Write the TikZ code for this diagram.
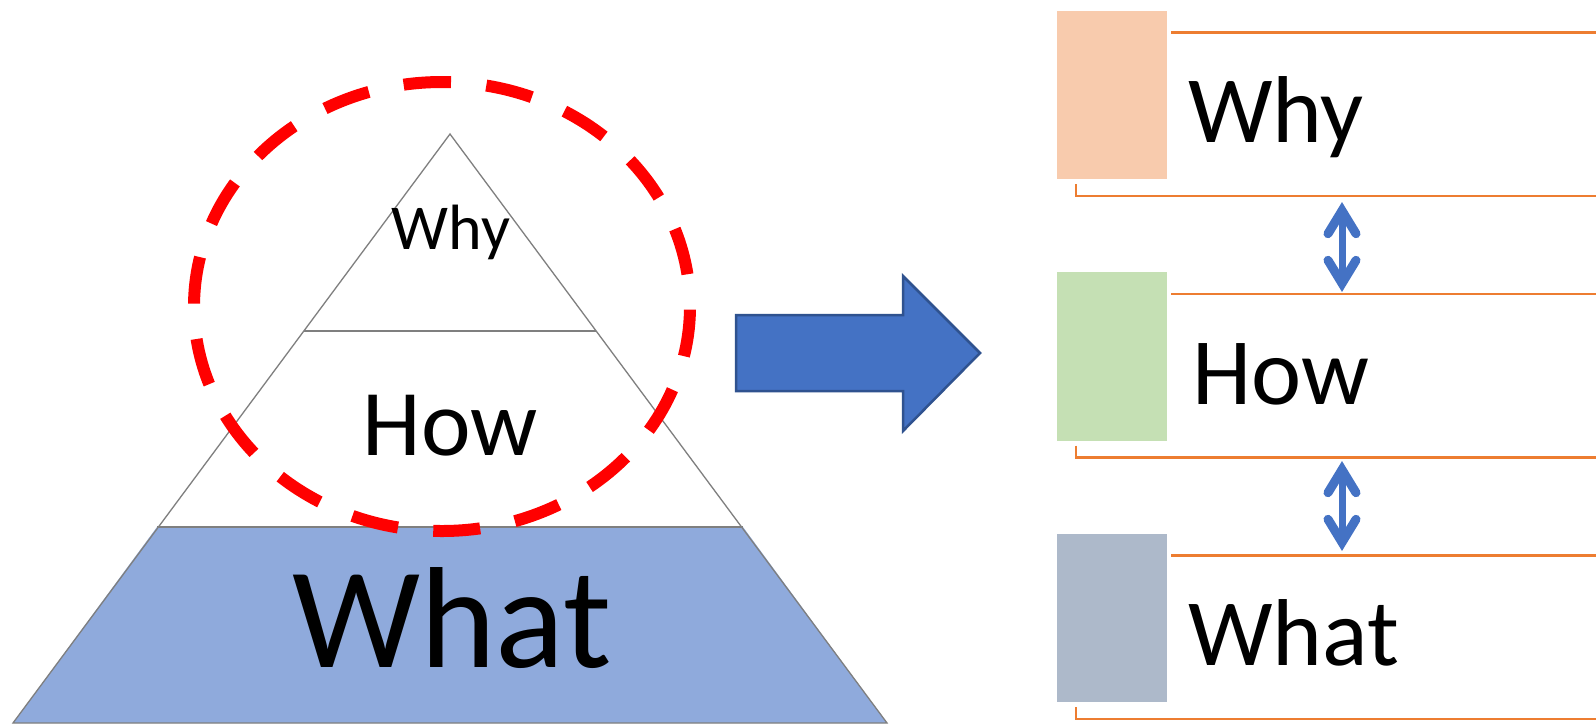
\documentclass[tikz,border=0pt]{standalone}
\usepackage{fontspec}
\setmainfont{Carlito}
\definecolor{whatfill}{HTML}{8FAADC}
\definecolor{pyrline}{HTML}{7F7F7F}
\definecolor{arrowblue}{HTML}{4472C4}
\definecolor{arrowedge}{HTML}{2F528F}
\definecolor{orangeln}{HTML}{ED7D31}
\definecolor{peach}{HTML}{F8CBAD}
\definecolor{softgreen}{HTML}{C5E0B4}
\definecolor{slate}{HTML}{ADB9CA}
\tikzset{
  pyr/.style={draw=pyrline, line width=1.3pt, line join=miter},
  reddash/.style={draw=red, line width=12pt, dash pattern=on 47pt off 35.5pt, dash phase=38pt},
  bigarrow/.style={fill=arrowblue, draw=arrowedge, line width=2.5pt, line join=miter},
  orangeline/.style={draw=orangeln, line width=2.5pt},
  colbox/.style={draw=none, minimum width=110pt, minimum height=168.5pt, anchor=north west, inner sep=0pt},
  dblshaft/.style={draw=arrowblue, line width=7pt},
  barbline/.style={draw=arrowblue, line width=9pt, line cap=round, line join=miter, miter limit=10},
  bigtext/.style={inner sep=0pt, anchor=base west, font=\fontsize{95}{95}\selectfont}
}
\begin{document}
\begin{tikzpicture}[x=1pt, y=-1pt]
\useasboundingbox (0,0) rectangle (1596,724);
\fill[white] (0,0) rectangle (1596,724);

% pyramid
\coordinate (apex) at (450,134);
\coordinate (bl) at (13,723);
\coordinate (br) at (887,723);
\coordinate (m1l) at (304,331);
\coordinate (m1r) at (596,331);
\coordinate (m2l) at (157,527);
\coordinate (m2r) at (743,527);
\fill[whatfill] (m2l) -- (m2r) -- (br) -- (bl) -- cycle;
\draw[pyr] (apex) -- (bl) -- (br) -- cycle;
\draw[pyr] (m1l) -- (m1r);
\draw[pyr] (m2l) -- (m2r);
\node[inner sep=0pt, anchor=base, font=\fontsize{64}{64}\selectfont] (pwhy) at (451,249.5) {Why};
\node[inner sep=0pt, anchor=base, font=\fontsize{94}{94}\selectfont] (phow) at (450,455) {How};
\node[inner sep=0pt, anchor=base, font=\fontsize{144}{144}\selectfont] (pwhat) at (452,667) {What};

% dashed ellipse
\draw[reddash] (442,82) arc[start angle=270, end angle=630, x radius=248, y radius=224.5];

% big arrow
\draw[bigarrow] (736,315) -- (903,315) -- (903,276) -- (980,353) -- (903,431) -- (903,391) -- (736,391) -- cycle;

% right side boxes
\node[colbox, fill=peach] (r1) at (1057,10.5) {};
\node[colbox, fill=softgreen] (r2) at (1057,272) {};
\node[colbox, fill=slate] (r3) at (1057,533.5) {};

\draw[orangeline] (1171,32.5) -- (1596,32.5);
\draw[orangeline] (1076,184) -- (1076,196) -- (1596,196);
\draw[orangeline] (1171,294) -- (1596,294);
\draw[orangeline] (1076,445.5) -- (1076,457.5) -- (1596,457.5);
\draw[orangeline] (1171,555.5) -- (1596,555.5);
\draw[orangeline] (1076,707) -- (1076,719) -- (1596,719);

\node[bigtext] (twhy) at (1188,142.5) {Why};
\node[bigtext] (thow) at (1192,404) {How};
\node[bigtext] (twhat) at (1188,665) {What};

% double arrows (vertex of each head sits just inside its tip)
\coordinate (a1t) at (1342,210.7);
\coordinate (a1b) at (1342,283.3);
\coordinate (a2t) at (1342,469.7);
\coordinate (a2b) at (1342,542.3);
\draw[dblshaft] (a1t) -- (a1b);
\draw[barbline] ([shift={(-14,23)}]a1t) -- (a1t) -- ([shift={(14,23)}]a1t);
\draw[barbline] ([shift={(-14,-23)}]a1b) -- (a1b) -- ([shift={(14,-23)}]a1b);
\draw[dblshaft] (a2t) -- (a2b);
\draw[barbline] ([shift={(-14,23)}]a2t) -- (a2t) -- ([shift={(14,23)}]a2t);
\draw[barbline] ([shift={(-14,-23)}]a2b) -- (a2b) -- ([shift={(14,-23)}]a2b);
\end{tikzpicture}
\end{document}
